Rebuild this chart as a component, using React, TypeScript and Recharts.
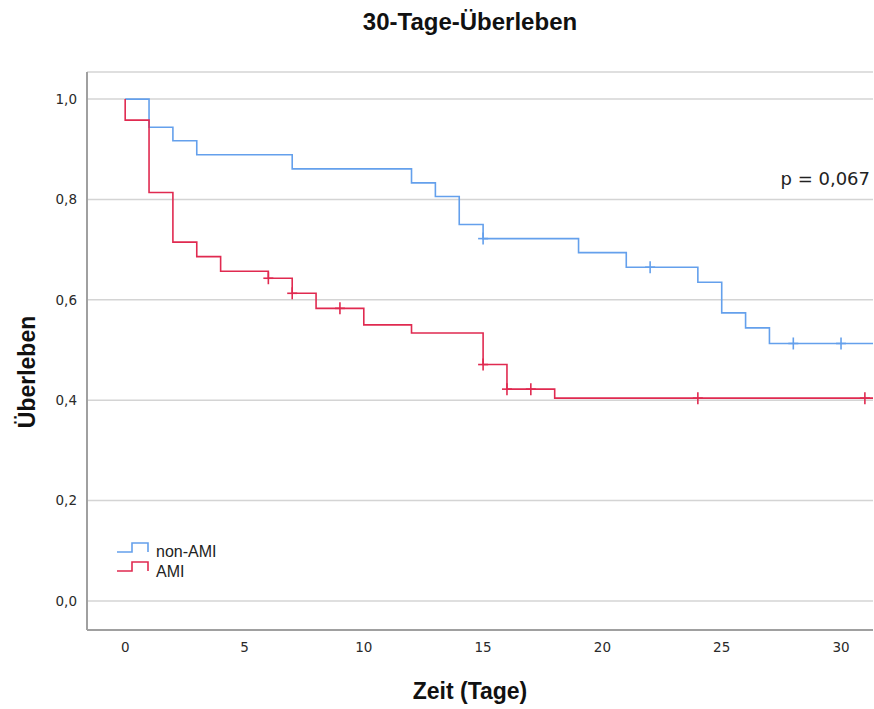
import React from "react"
import { LineChart, Line, XAxis, YAxis, CartesianGrid } from "recharts"

// Kaplan-Meier estimates, 30-day survival
const nonAmiTime = [0, 1, 2, 3, 7, 12, 13, 14, 15, 19, 21, 22, 24, 25, 26, 27, 28, 30, 31.4]
const nonAmiSurv = [1, 0.944, 0.917, 0.889, 0.861, 0.833, 0.806, 0.75, 0.722, 0.694, 0.665, 0.665, 0.635, 0.574, 0.544, 0.513, 0.513, 0.513, 0.513]
const nonAmiCensored = [15, 22, 28, 30]

const amiTime = [0, 0, 1, 2, 3, 4, 6, 7, 8, 9, 10, 12, 15, 16, 17, 18, 24, 31, 31.4]
const amiSurv = [1, 0.958, 0.814, 0.715, 0.686, 0.657, 0.643, 0.613, 0.583, 0.583, 0.55, 0.534, 0.471, 0.422, 0.422, 0.404, 0.404, 0.404, 0.404]
const amiCensored = [6, 7, 9, 15, 16, 17, 24, 31]

const xTicks = [0, 5, 10, 15, 20, 25, 30]
const yTicks = [0, 0.2, 0.4, 0.6, 0.8, 1.0]

const BLUE = "#64a0ec"
const RED = "#e02a50"

const toRows = (time: number[], surv: number[], censored: number[]) =>
  time.map((t, i) => ({
    t,
    s: surv[i],
    censored: censored.includes(t) && (i === time.length - 1 || time[i + 1] !== t),
  }))

const nonAmiData = toRows(nonAmiTime, nonAmiSurv, nonAmiCensored)
const amiData = toRows(amiTime, amiSurv, amiCensored)

const censorMark = (color: string) => (props: any) => {
  const { cx, cy, payload, index } = props
  if (!payload?.censored) return <g key={index} />
  return (
    <g key={index} stroke={color} strokeWidth={1.6}>
      <line x1={cx} x2={cx} y1={cy - 6} y2={cy + 6} />
      <line x1={cx - 5} x2={cx + 5} y1={cy} y2={cy} />
    </g>
  )
}

// small step glyph used in the legend
const StepIcon = ({ color, x, y }: { color: string; x: number; y: number }) => (
  <path
    d={`M${x} ${y + 9} H${x + 15} V${y} H${x + 31} V${y + 9}`}
    fill="none"
    stroke={color}
    strokeWidth={1.6}
  />
)

const fmt = (v: number) => v.toFixed(1).replace(".", ",")

export default function App() {
  const tickStyle = { fontFamily: "DejaVu Sans", fontSize: 13.5, fill: "#2a2a2a" }
  return (
    <div style={{ position: "absolute", left: 0, top: 0, width: 874, height: 709, background: "#fff" }}>
      <LineChart width={874} height={709} margin={{ top: 72, right: 1, bottom: 39, left: 17 }}>
        <CartesianGrid vertical={false} stroke="#d4d4d4" strokeWidth={1.5} />
        <XAxis
          type="number"
          dataKey="t"
          domain={[-1.6, 31.34]}
          ticks={xTicks}
          allowDataOverflow
          height={40}
          tickLine={false}
          tickMargin={6}
          stroke="#a0a0a0"
          strokeWidth={2}
          tick={tickStyle}
        />
        <YAxis
          type="number"
          dataKey="s"
          domain={[-0.058, 1.054]}
          ticks={yTicks}
          allowDataOverflow
          width={70}
          tickLine={false}
          tickMargin={4}
          tickFormatter={fmt}
          stroke="#a0a0a0"
          strokeWidth={2}
          tick={tickStyle}
        />
        <Line
          data={nonAmiData}
          dataKey="s"
          name="non-AMI"
          type="stepAfter"
          stroke={BLUE}
          strokeWidth={1.6}
          dot={censorMark(BLUE)}
          activeDot={false}
          isAnimationActive={false}
        />
        <Line
          data={amiData}
          dataKey="s"
          name="AMI"
          type="stepAfter"
          stroke={RED}
          strokeWidth={1.6}
          dot={censorMark(RED)}
          activeDot={false}
          isAnimationActive={false}
        />
      </LineChart>
      <svg
        width={874}
        height={709}
        style={{ position: "absolute", left: 0, top: 0, pointerEvents: "none" }}
      >
        <text x={470} y={30} textAnchor="middle" fontFamily="Liberation Sans, Arial" fontWeight="bold" fontSize={24} fill="#111">
          30-Tage-Überleben
        </text>
        <text
          transform="translate(35, 372) rotate(-90)"
          textAnchor="middle"
          fontFamily="Liberation Sans, Arial"
          fontWeight="bold"
          fontSize={23}
          fill="#111"
        >
          Überleben
        </text>
        <text x={470} y={699} textAnchor="middle" fontFamily="Liberation Sans, Arial" fontWeight="bold" fontSize={23} fill="#111">
          Zeit (Tage)
        </text>
        <text x={870} y={185} textAnchor="end" fontFamily="DejaVu Sans" fontSize={18} fill="#222">
          p = 0,067
        </text>
        <StepIcon color={BLUE} x={117} y={543} />
        <text x={156} y={557} fontFamily="Liberation Sans, Arial" fontSize={16} fill="#222">
          non-AMI
        </text>
        <StepIcon color={RED} x={117} y={562} />
        <text x={156} y={577} fontFamily="Liberation Sans, Arial" fontSize={16} fill="#222">
          AMI
        </text>
      </svg>
    </div>
  )
}
